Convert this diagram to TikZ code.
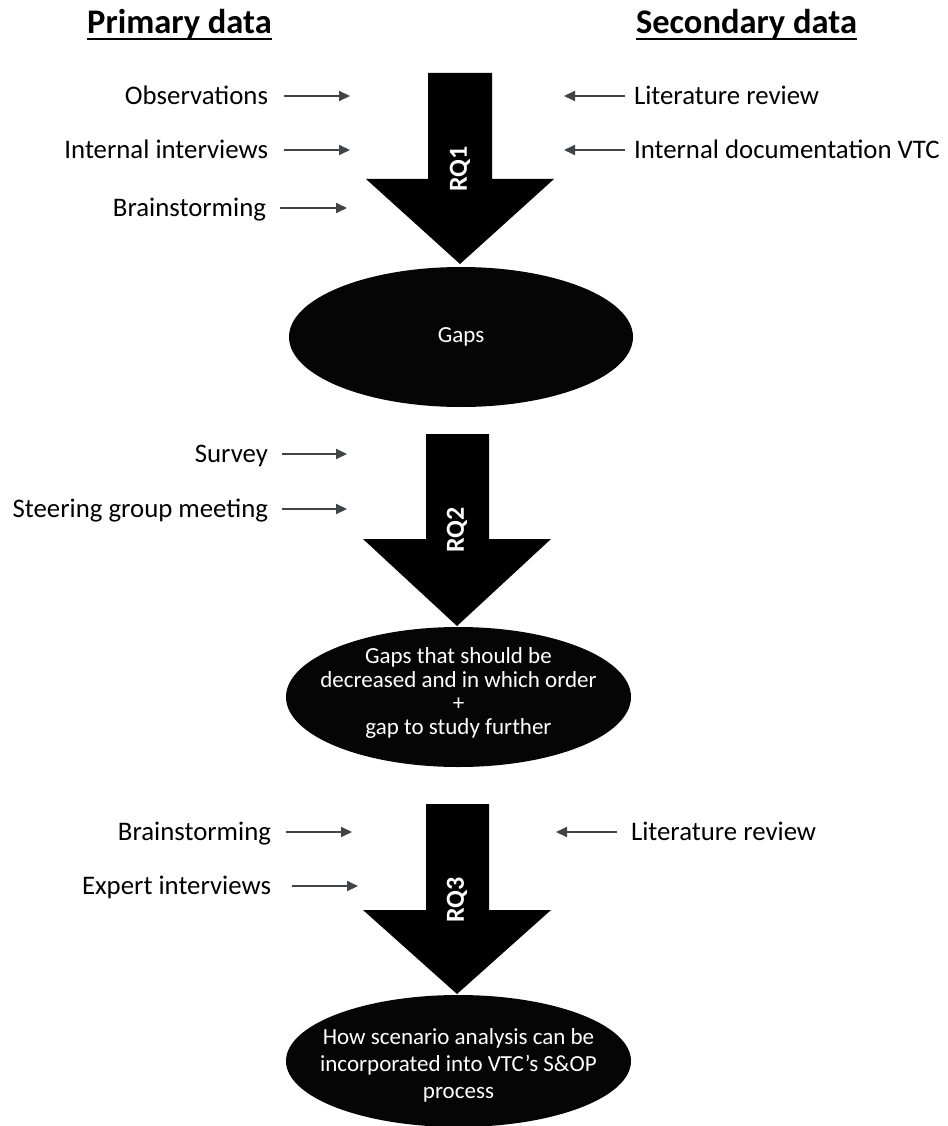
\documentclass[tikz,border=0pt]{standalone}
\usepackage{fontspec}
\setmainfont{Carlito}
\usetikzlibrary{shapes.geometric,arrows.meta}

\definecolor{inkgray}{HTML}{3F4448}
\definecolor{solid}{HTML}{050505}

\begin{document}
\begin{tikzpicture}[x=1pt,y=-1pt,
  every node/.style={inner sep=0pt,outer sep=0pt},
  title/.style={font=\fontsize{34.5}{40}\selectfont\bfseries,anchor=base},
  srcleft/.style={font=\fontsize{26.8}{32}\selectfont,anchor=base east},
  srcright/.style={font=\fontsize{26.8}{32}\selectfont,anchor=base west},
  flow/.style={draw=inkgray,line width=2pt,-{Triangle[length=11pt,width=10pt]}},
  rqlabel/.style={font=\fontsize{26}{30}\selectfont\bfseries,text=white,rotate=90},
  result/.style={ellipse,fill=solid,draw=none},
  resulttext/.style={font=\fontsize{23}{23.5}\selectfont,text=white,align=center},
]
\useasboundingbox (0,0) rectangle (947,1126);

% column headings
\node[title] (prim) at (179.5,34) {Primary data};
\node[title] (sec) at (746.5,34) {Secondary data};
\draw[line width=2.6pt] ([yshift=-5pt]prim.base west) -- ([yshift=-5pt]prim.base east);
\draw[line width=2.6pt] ([yshift=-5pt]sec.base west) -- ([yshift=-5pt]sec.base east);

% ---------- RQ1 ----------
\fill[solid] (428,73) -- (492,73) -- (492,179) -- (554,179) -- (460,264)
  -- (366,179) -- (428,179) -- cycle;
\node[rqlabel] (rq1) at (460,169) {RQ1};

\node[srcleft] (obs) at (268,104.5) {Observations};
\node[srcleft] (intint) at (268,158.5) {Internal interviews};
\node[srcleft] (brain1) at (266,216.5) {Brainstorming};
\node[srcright] (lit1) at (634,104.5) {Literature review};
\node[srcright] (doc) at (634,158.5) {Internal documentation VTC};

\coordinate (tobs) at (350,96);
\coordinate (tint) at (350,150);
\coordinate (tbrain1) at (347,208);
\coordinate (tlit1) at (564,96);
\coordinate (tdoc) at (564,150);

\draw[flow,shorten <=16pt] (obs.east |- tobs) -- (tobs);
\draw[flow,shorten <=16pt] (intint.east |- tint) -- (tint);
\draw[flow,shorten <=14pt] (brain1.east |- tbrain1) -- (tbrain1);
\draw[flow,shorten <=9pt] (lit1.west |- tlit1) -- (tlit1);
\draw[flow,shorten <=9pt] (doc.west |- tdoc) -- (tdoc);

\node[result,minimum width=344pt,minimum height=140pt] (gaps) at (461,337) {};
\node[resulttext] at (gaps.center) {Gaps};

% ---------- RQ2 ----------
\fill[solid] (426,434) -- (489,434) -- (489,539) -- (551,539) -- (457,626)
  -- (363,539) -- (426,539) -- cycle;
\node[rqlabel] (rq2) at (457,530) {RQ2};

\node[srcleft] (survey) at (268,462) {Survey};
\node[srcleft] (steer) at (268,517) {Steering group meeting};

\coordinate (tsurvey) at (347,454);
\coordinate (tsteer) at (347,509);

\draw[flow,shorten <=14pt] (survey.east |- tsurvey) -- (tsurvey);
\draw[flow,shorten <=14pt] (steer.east |- tsteer) -- (tsteer);

\node[result,minimum width=345pt,minimum height=140pt] (order) at (458.5,697) {};
\node[resulttext] at (458.5,693) {Gaps that should be\\decreased and in which order\\+\\gap to study further};

% ---------- RQ3 ----------
\fill[solid] (426,804) -- (489,804) -- (489,910) -- (551,910) -- (457,994)
  -- (363,910) -- (426,910) -- cycle;
\node[rqlabel] (rq3) at (457,900) {RQ3};

\node[srcleft] (brain3) at (271,840) {Brainstorming};
\node[srcleft] (expert) at (271,894) {Expert interviews};
\node[srcright] (lit3) at (631,840) {Literature review};

\coordinate (tbrain3) at (352,832);
\coordinate (texpert) at (358,886);
\coordinate (tlit3) at (556,832);

\draw[flow,shorten <=15pt] (brain3.east |- tbrain3) -- (tbrain3);
\draw[flow,shorten <=21pt] (expert.east |- texpert) -- (texpert);
\draw[flow,shorten <=14pt] (lit3.west |- tlit3) -- (tlit3);

\node[result,minimum width=345pt,minimum height=132pt] (sop) at (458.5,1061) {};
\node[resulttext,font=\fontsize{23}{27}\selectfont] at (458.5,1065)
  {How scenario analysis can be\\incorporated into VTC’s S\&OP\\process};
\end{tikzpicture}
\end{document}
